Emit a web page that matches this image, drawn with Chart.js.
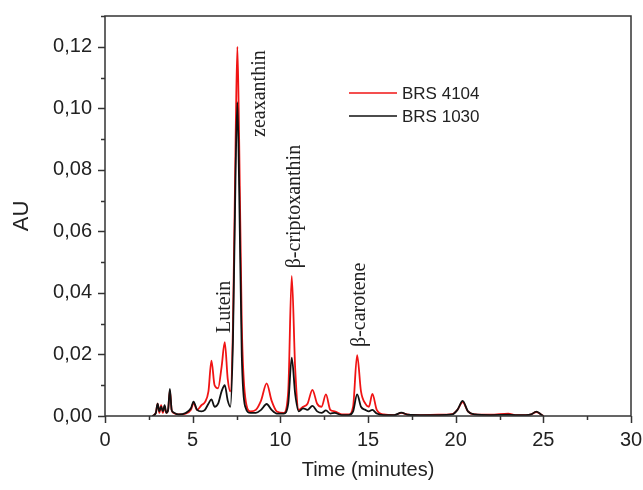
<!DOCTYPE html>
<html>
<head>
<meta charset="utf-8">
<script src="https://cdn.jsdelivr.net/npm/chart.js@4"></script>
<style>
  html, body { margin: 0; padding: 0; background: #fff; }
  #wrap { width: 643px; height: 490px; }
</style>
</head>
<body>
<div id="wrap"><canvas id="chrom" width="643" height="490"></canvas></div>
<script>
// retention times (minutes)
const times = [2.7, 2.9, 3.0, 3.1, 3.2, 3.3, 3.4, 3.5, 3.6, 3.7, 3.8, 3.9, 4.2, 4.6, 4.9, 5.05, 5.25, 5.5, 5.7, 5.9,
  6.07, 6.25, 6.45, 6.65, 6.83, 7.0, 7.15, 7.3, 7.45, 7.55, 7.65, 7.8, 8.0, 8.3, 8.6, 8.9, 9.22, 9.5, 9.8, 10.2,
  10.45, 10.65, 10.85, 11.05, 11.3, 11.55, 11.83, 12.1, 12.35, 12.6, 12.85, 13.1, 13.5, 13.9, 14.15, 14.38, 14.6, 14.85, 15.05, 15.25,
  15.5, 15.9, 16.5, 16.9, 17.3, 18, 19, 19.8, 20.1, 20.4, 20.7, 21.1, 22, 23, 23.4, 24, 24.3, 24.6, 24.85, 25.0];

// absorbance BRS 4104
const brs4104 = [0, 0.001, 0.004, 0.001, 0.0035, 0.001, 0.003, 0.001, 0.002, 0.0082, 0.002, 0.001, 0.0005, 0.0008, 0.002, 0.0042, 0.002, 0.0035, 0.0045, 0.008,
  0.018, 0.010, 0.009, 0.016, 0.024, 0.012, 0.008, 0.03, 0.09, 0.120, 0.09, 0.03, 0.006, 0.0015, 0.002, 0.005, 0.0106, 0.005, 0.0015, 0.001,
  0.008, 0.0455, 0.015, 0.002, 0.003, 0.004, 0.0085, 0.004, 0.003, 0.007, 0.002, 0.0015, 0.0005, 0.0005, 0.003, 0.0198, 0.008, 0.004, 0.003, 0.0072,
  0.002, 0.0005, 0.0003, 0.001, 0.0004, 0.0003, 0.0004, 0.0006, 0.002, 0.0045, 0.0015, 0.0005, 0.0004, 0.0008, 0.0003, 0.0003, 0.0005, 0.0013, 0.0006, 0];

// absorbance BRS 1030
const brs1030 = [0, 0.001, 0.004, 0.0015, 0.003, 0.0015, 0.0035, 0.001, 0.002, 0.0088, 0.002, 0.0012, 0.0005, 0.001, 0.0025, 0.0047, 0.002, 0.0015, 0.002, 0.004,
  0.0054, 0.003, 0.004, 0.008, 0.010, 0.005, 0.003, 0.025, 0.08, 0.102, 0.075, 0.02, 0.003, 0.001, 0.001, 0.002, 0.0039, 0.002, 0.0008, 0.0008,
  0.004, 0.019, 0.007, 0.0015, 0.0025, 0.002, 0.0033, 0.0015, 0.001, 0.0018, 0.0008, 0.001, 0.0003, 0.0003, 0.0015, 0.007, 0.003, 0.002, 0.0015, 0.002,
  0.0008, 0.0003, 0.0003, 0.0011, 0.0004, 0.0003, 0.0003, 0.0005, 0.002, 0.0049, 0.0015, 0.0005, 0.0003, 0.0004, 0.0003, 0.0003, 0.0005, 0.0014, 0.0006, 0];

// peak names, retention time of each name and AU where the text starts
const peakNames = ['Lutein', 'zeaxanthin', 'β-criptoxanthin', 'β-carotene'];
const peakTimes = [6.85, 8.84, 10.84, 14.55];
const peakLabelAU = [0.027, 0.0907, 0.048, 0.0224];

const ink = '#222';
const axisCol = '#333';

function toPoints(vals) {
  return times.map((t, i) => ({ x: t, y: vals[i] }));
}

// ticks, frame, legend and peak labels
const extras = {
  id: 'extras',
  afterDraw(chart) {
    const ctx = chart.ctx;
    const a = chart.chartArea;
    const xs = chart.scales.x, ys = chart.scales.y;
    ctx.save();
    ctx.strokeStyle = axisCol;
    ctx.lineWidth = 1.5;
    ctx.strokeRect(a.left, a.top, a.right - a.left, a.bottom - a.top);

    // x ticks every 2.5, long ones on labels
    for (let v = 0; v <= 30; v += 2.5) {
      const px = Math.round(xs.getPixelForValue(v)) + 0.5;
      const len = v % 5 === 0 ? 7 : 4;
      ctx.beginPath();
      ctx.moveTo(px, a.bottom);
      ctx.lineTo(px, a.bottom + len);
      ctx.stroke();
    }
    // y ticks every 0.01
    for (let i = 0; i <= 13; i++) {
      const py = Math.round(ys.getPixelForValue(i / 100)) + 0.5;
      const len = i % 2 === 0 ? 7 : 4;
      ctx.beginPath();
      ctx.moveTo(a.left, py);
      ctx.lineTo(a.left - len, py);
      ctx.stroke();
    }

    // legend
    ctx.font = '17px "Liberation Sans", Arial, sans-serif';
    ctx.textBaseline = 'middle';
    ctx.textAlign = 'left';
    chart.data.datasets.forEach((ds, i) => {
      const y = 93 + i * 23;
      ctx.strokeStyle = ds.borderColor;
      ctx.lineWidth = 1.5;
      ctx.beginPath();
      ctx.moveTo(349, y);
      ctx.lineTo(397, y);
      ctx.stroke();
      ctx.fillStyle = ink;
      ctx.fillText(ds.label, 402, y + 1);
    });

    // peak names, rotated
    ctx.font = '20px "Liberation Serif", "Times New Roman", serif';
    ctx.fillStyle = ink;
    peakNames.forEach((name, i) => {
      const px = xs.getPixelForValue(peakTimes[i]);
      const py = ys.getPixelForValue(peakLabelAU[i]);
      ctx.save();
      ctx.translate(px, py);
      ctx.rotate(-Math.PI / 2);
      ctx.textAlign = 'left';
      ctx.textBaseline = 'middle';
      ctx.fillText(name, 0, 0);
      ctx.restore();
    });
    ctx.restore();
  }
};

const ctx = document.getElementById('chrom').getContext('2d');
new Chart(ctx, {
  type: 'scatter',
  data: {
    datasets: [
      {
        label: 'BRS 4104',
        data: toPoints(brs4104),
        showLine: true,
        borderColor: '#f01414',
        borderWidth: 1.8,
        pointRadius: 0,
        cubicInterpolationMode: 'monotone',
        order: 2
      },
      {
        label: 'BRS 1030',
        data: toPoints(brs1030),
        showLine: true,
        borderColor: '#111',
        borderWidth: 1.8,
        pointRadius: 0,
        cubicInterpolationMode: 'monotone',
        order: 1
      }
    ]
  },
  options: {
    responsive: false,
    animation: false,
    layout: { padding: { top: 16, right: 12, left: 0, bottom: 0 } },
    plugins: { legend: { display: false }, tooltip: { enabled: false } },
    scales: {
      x: {
        type: 'linear',
        min: 0,
        max: 30,
        grid: { display: false, drawTicks: false },
        border: { display: false },
        afterFit(scale) {
          scale.height = 74;
          scale.paddingLeft = 0;
          scale.paddingRight = 0;
        },
        ticks: {
          stepSize: 5,
          padding: 12,
          color: ink,
          font: { family: '"Liberation Sans", Arial, sans-serif', size: 20 },
          callback: v => String(v)
        },
        title: {
          display: true,
          text: 'Time (minutes)',
          color: ink,
          font: { family: '"Liberation Sans", Arial, sans-serif', size: 20 },
          padding: { top: 0, bottom: 8 }
        }
      },
      y: {
        min: 0,
        max: 0.13,
        grid: { display: false, drawTicks: false },
        border: { display: false },
        afterFit(scale) {
          scale.width = 105;
          scale.paddingTop = 0;
          scale.paddingBottom = 0;
        },
        ticks: {
          stepSize: 0.02,
          padding: 13,
          color: ink,
          font: { family: '"Liberation Sans", Arial, sans-serif', size: 20 },
          callback: v => (v > 0.125 ? '' : v.toFixed(2).replace('.', ','))
        },
        title: {
          display: true,
          text: 'AU',
          color: ink,
          font: { family: '"Liberation Sans", Arial, sans-serif', size: 22 },
          padding: { top: 9, bottom: 0 }
        }
      }
    }
  },
  plugins: [extras]
});
</script>
</body>
</html>
